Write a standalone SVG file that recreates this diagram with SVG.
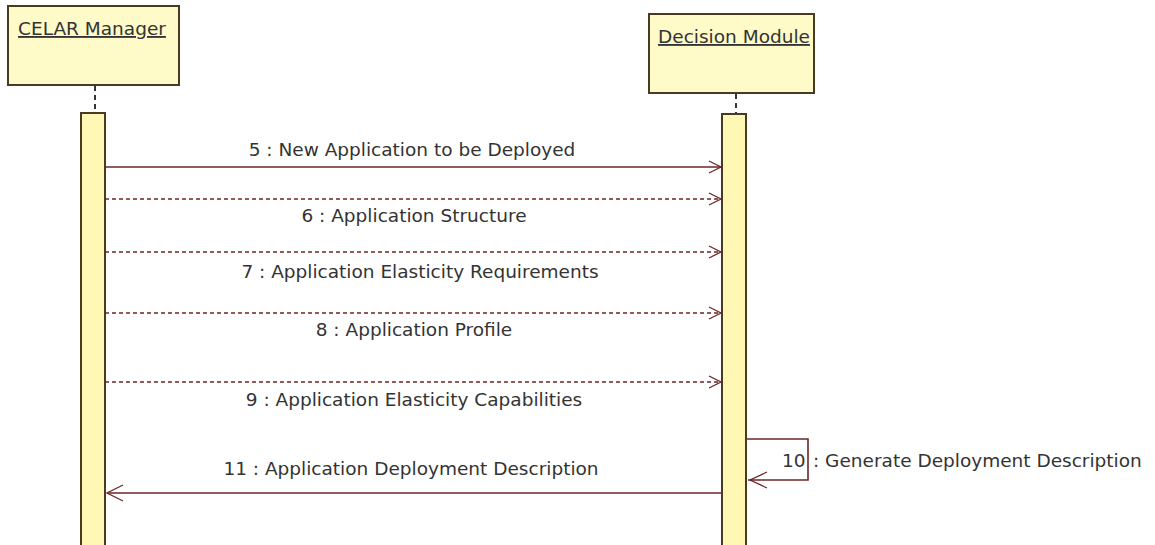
<svg xmlns="http://www.w3.org/2000/svg" width="1155" height="545" viewBox="0 0 1155 545">
<defs>
<style>
.box{fill:#FFFBC8;stroke:#4A3A22;stroke-width:2}
.bar{fill:#FFF8B4;stroke:#4A3A22;stroke-width:2}
.life{stroke:#333;stroke-width:2;stroke-dasharray:5,4;fill:none}
.msg{stroke:#6E2626;stroke-width:1.6;fill:none}
.dash{stroke-dasharray:4,3}
.head{stroke:#6E2626;stroke-width:1.3;fill:none}
.title{font-family:"DejaVu Sans","Liberation Sans",sans-serif;font-size:18.5px;fill:#333;text-decoration:underline}
.lbl{font-family:"DejaVu Sans","Liberation Sans",sans-serif;font-size:18.5px;fill:#333}
</style>
</defs>
<rect width="1155" height="545" fill="#fff"/>
<g id="celar-manager">
<rect class="box" x="8" y="6" width="171" height="79"/>
<text class="title" x="92" y="35" text-anchor="middle">CELAR Manager</text>
<line class="life" x1="95" y1="86" x2="95" y2="112"/>
<rect class="bar" x="81" y="113" width="24" height="440"/>
</g>
<g id="decision-module">
<rect class="box" x="649" y="14" width="165" height="79"/>
<text class="title" x="734" y="43" text-anchor="middle">Decision Module</text>
<line class="life" x1="736" y1="94" x2="736" y2="113"/>
<rect class="bar" x="722" y="114" width="24" height="440"/>
</g>
<g id="connectors">
<line class="msg" x1="105" y1="167" x2="721" y2="167"/>
<polyline class="head" points="709,161 721,167 709,173"/>
<text class="lbl" x="412" y="156" text-anchor="middle">5 : New Application to be Deployed</text>
<line class="msg dash" x1="105" y1="199" x2="721" y2="199"/>
<polyline class="head" points="709,193 721,199 709,205"/>
<text class="lbl" x="414" y="222" text-anchor="middle">6 : Application Structure</text>
<line class="msg dash" x1="105" y1="252" x2="721" y2="252"/>
<polyline class="head" points="709,246 721,252 709,258"/>
<text class="lbl" x="420" y="278" text-anchor="middle">7 : Application Elasticity Requirements</text>
<line class="msg dash" x1="105" y1="313" x2="721" y2="313"/>
<polyline class="head" points="709,307 721,313 709,319"/>
<text class="lbl" x="414" y="336" text-anchor="middle">8 : Application Profile</text>
<line class="msg dash" x1="105" y1="382" x2="721" y2="382"/>
<polyline class="head" points="709,376 721,382 709,388"/>
<text class="lbl" x="414" y="406" text-anchor="middle">9 : Application Elasticity Capabilities</text>
<polyline class="msg" points="747,439 808,439 808,480 748,480"/>
<polyline class="head" points="767,472 750,480 767,488"/>
<text class="lbl" x="782" y="467">10</text>
<text class="lbl" x="813" y="467">: Generate Deployment Description</text>
<line class="msg" x1="722" y1="493" x2="107" y2="493"/>
<polyline class="head" points="123,485 107,493 123,501"/>
<text class="lbl" x="411" y="475" text-anchor="middle">11 : Application Deployment Description</text>
</g>
</svg>
